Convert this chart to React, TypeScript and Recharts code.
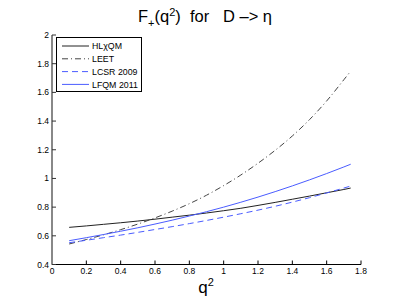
import React from 'react';
import { LineChart, Line, XAxis, YAxis, Customized } from 'recharts';

const q2 = [0.1, 0.2, 0.3, 0.4, 0.5, 0.6, 0.7, 0.8, 0.9, 1.0, 1.1, 1.2, 1.3, 1.4, 1.5, 1.6, 1.7, 1.74];
const hlxqm = [0.659, 0.669, 0.68, 0.691, 0.703, 0.716, 0.73, 0.744, 0.759, 0.775, 0.792, 0.812, 0.833, 0.855, 0.877, 0.9, 0.923, 0.933];
const leet = [0.543, 0.574, 0.607, 0.643, 0.682, 0.725, 0.772, 0.824, 0.883, 0.95, 1.024, 1.106, 1.196, 1.296, 1.41, 1.54, 1.688, 1.748];
const lcsr = [0.552, 0.569, 0.587, 0.605, 0.624, 0.644, 0.664, 0.685, 0.707, 0.73, 0.754, 0.779, 0.806, 0.835, 0.866, 0.899, 0.933, 0.947];
const lfqm = [0.566, 0.587, 0.609, 0.632, 0.656, 0.682, 0.709, 0.738, 0.768, 0.8, 0.834, 0.87, 0.908, 0.948, 0.99, 1.034, 1.08, 1.099];

const xTicks = [0, 0.2, 0.4, 0.6, 0.8, 1, 1.2, 1.4, 1.6, 1.8];
const yTicks = [0.4, 0.6, 0.8, 1, 1.2, 1.4, 1.6, 1.8, 2];
const seriesNames = ['HL\u03C7QM', 'LEET', 'LCSR 2009', 'LFQM 2011'];

const data = q2.map((q, i) => ({ q, hlxqm: hlxqm[i], leet: leet[i], lcsr: lcsr[i], lfqm: lfqm[i] }));

const FONT = '"Liberation Sans", Arial, Helvetica, sans-serif';
const styles = [
  { stroke: '#222', dash: undefined },
  { stroke: '#444', dash: '6 3 1 3' },
  { stroke: '#4a5cff', dash: '6 4' },
  { stroke: '#4a5cff', dash: undefined },
];

const Title = () => (
  <g>
    <text x={205} y={22} textAnchor="middle" fontFamily={FONT} fontSize={16.5} fill="#000" xmlSpace="preserve" style={{ whiteSpace: 'pre' }}>
      <tspan>F</tspan>
      <tspan fontSize={11} dy={5}>+</tspan>
      <tspan dy={-5}>(q</tspan>
      <tspan fontSize={11} dy={-6}>2</tspan>
      <tspan dy={6}>{')\u00A0\u00A0for\u00A0\u00A0\u00A0D\u00A0\u2013>\u00A0\u03B7'}</tspan>
    </text>
  </g>
);

const LegendBox = () => (
  <g>
    <rect x={56.5} y={37.5} width={85} height={54} fill="#fff" stroke="#000" strokeWidth={1} />
    {seriesNames.map((n, i) => {
      const y = 46 + i * 12.8;
      return (
        <g key={n}>
          <line x1={62} x2={89} y1={y} y2={y} stroke={styles[i].stroke} strokeWidth={1} strokeDasharray={styles[i].dash} />
          <text x={92} y={y + 3.2} fontFamily={FONT} fontSize={8.8} fill="#000">{n}</text>
        </g>
      );
    })}
  </g>
);

const XLabel = () => (
  <text x={206} y={293} textAnchor="middle" fontFamily={FONT} fontSize={17} fill="#000">
    <tspan>q</tspan>
    <tspan fontSize={11} dy={-7}>2</tspan>
  </text>
);

export default function App() {
  const tickStyle = { fontFamily: FONT, fontSize: 8.5, fill: '#000' };
  return (
    <div style={{ position: 'absolute', left: 0, top: 0, width: 399, height: 300, background: '#fff' }}>
      <LineChart width={399} height={300} data={data} margin={{ top: 35, right: 38, bottom: 0, left: 0 }}>
        <XAxis
          dataKey="q"
          type="number"
          domain={[0, 1.8]}
          ticks={xTicks}
          height={35.5}
          tickSize={-4}
          tickMargin={7}
          interval={0}
          tick={tickStyle}
          axisLine={{ stroke: '#000', strokeWidth: 1.2 }}
          tickLine={{ stroke: '#000' }}
        />
        <XAxis
          xAxisId="top"
          orientation="top"
          dataKey="q"
          type="number"
          domain={[0, 1.8]}
          ticks={xTicks}
          height={0}
          tickSize={-4}
          tick={false}
          axisLine={{ stroke: '#000', strokeWidth: 1 }}
          tickLine={{ stroke: '#000' }}
        />
        <YAxis
          type="number"
          domain={[0.4, 2]}
          ticks={yTicks}
          width={52}
          tickSize={-4}
          tickMargin={7}
          interval={0}
          tick={tickStyle}
          axisLine={{ stroke: '#888', strokeWidth: 2 }}
          tickLine={{ stroke: '#333' }}
        />
        <YAxis
          yAxisId="right"
          orientation="right"
          type="number"
          domain={[0.4, 2]}
          ticks={yTicks}
          width={0}
          tickSize={-4}
          tick={false}
          axisLine={{ stroke: '#888', strokeWidth: 2 }}
          tickLine={{ stroke: '#333' }}
        />
        <Line type="monotone" dataKey="hlxqm" stroke={styles[0].stroke} strokeWidth={1} dot={false} isAnimationActive={false} />
        <Line type="monotone" dataKey="leet" stroke={styles[1].stroke} strokeWidth={1} strokeDasharray={styles[1].dash} dot={false} isAnimationActive={false} />
        <Line type="monotone" dataKey="lcsr" stroke={styles[2].stroke} strokeWidth={1} strokeDasharray={styles[2].dash} dot={false} isAnimationActive={false} />
        <Line type="monotone" dataKey="lfqm" stroke={styles[3].stroke} strokeWidth={1} dot={false} isAnimationActive={false} />
        <Customized component={Title} />
        <Customized component={LegendBox} />
        <Customized component={XLabel} />
      </LineChart>
    </div>
  );
}
